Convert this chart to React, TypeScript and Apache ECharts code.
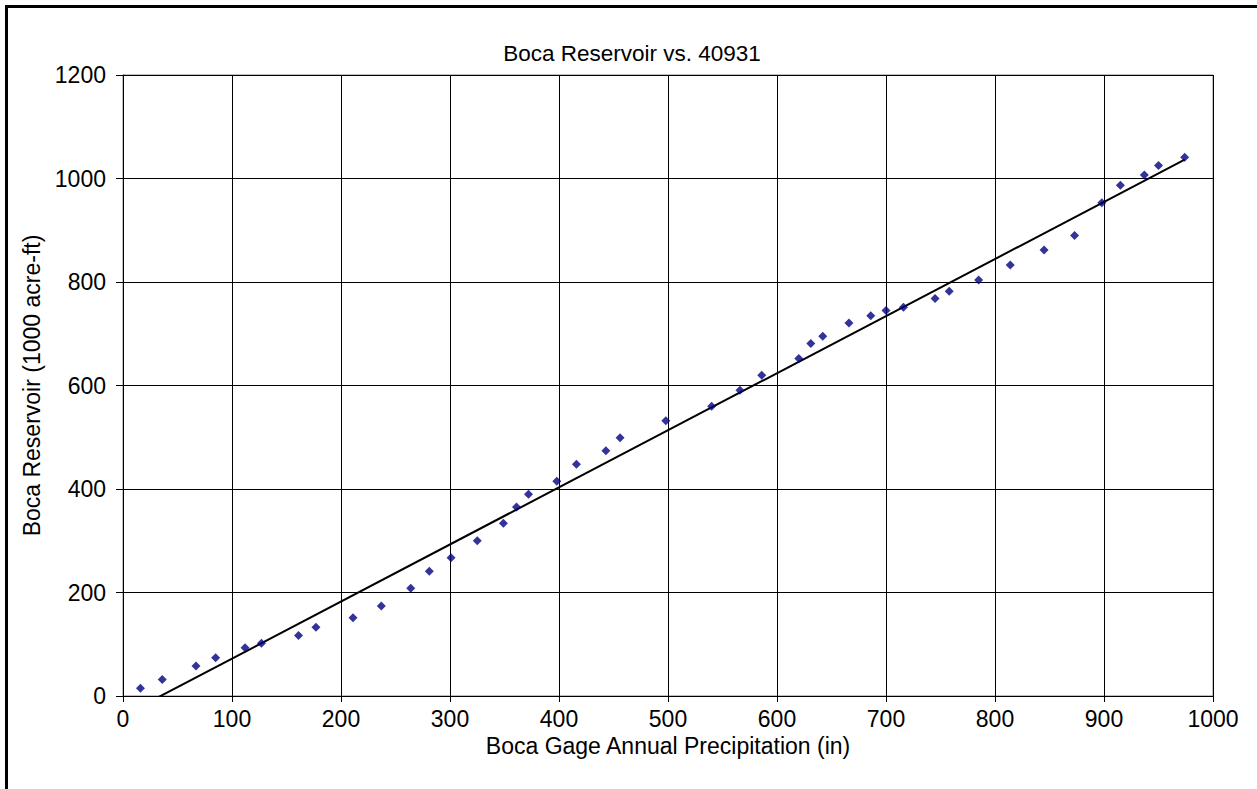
import React, { useEffect, useRef } from "react";
import * as echarts from "echarts";

const precipitation = [16, 36, 67, 85, 112, 127, 161, 177, 211, 237, 264, 281, 301, 325, 349, 361, 372, 398, 416, 443, 456, 498, 540, 566, 586, 620, 631, 642, 666, 686, 700, 716, 745, 758, 785, 814, 845, 873, 898, 915, 937, 950, 974];
const reservoir = [15, 32, 58, 74, 93, 102, 117, 133, 151, 174, 208, 241, 267, 300, 334, 365, 390, 415, 448, 474, 499, 532, 560, 591, 620, 652, 681, 695, 721, 735, 745, 751, 768, 782, 804, 833, 862, 890, 953, 987, 1007, 1025, 1041];

const titleText = "Boca Reservoir vs. 40931";
const xName = "Boca Gage Annual Precipitation (in)";
const yName = "Boca Reservoir (1000 acre-ft)";

function regression(xs: number[], ys: number[]) {
  const n = xs.length;
  const mx = xs.reduce((a, b) => a + b, 0) / n;
  const my = ys.reduce((a, b) => a + b, 0) / n;
  let sxy = 0, sxx = 0;
  for (let i = 0; i < n; i++) {
    sxy += (xs[i] - mx) * (ys[i] - my);
    sxx += (xs[i] - mx) * (xs[i] - mx);
  }
  const slope = sxy / sxx;
  return { slope, intercept: my - slope * mx };
}

const FONT = "'Liberation Sans', Arial, sans-serif";
const FS = 23;

export default function App() {
  const ref = useRef<HTMLDivElement>(null);
  useEffect(() => {
    if (!ref.current) return;
    const chart = echarts.init(ref.current, null, { renderer: "svg" });
    const { slope, intercept } = regression(precipitation, reservoir);
    const xmin = Math.min(...precipitation);
    const xmax = Math.max(...precipitation);
    const trend = [
      [xmin, slope * xmin + intercept],
      [xmax, slope * xmax + intercept],
    ];
    const points = precipitation.map((x, i) => [x, reservoir[i]]);
    chart.setOption({
      animation: false,
      backgroundColor: "#fff",
      textStyle: { fontFamily: FONT, color: "#000" },
      title: {
        text: titleText,
        left: 627,
        textAlign: "center",
        top: 37,
        textStyle: { fontFamily: FONT, fontSize: 22.5, fontWeight: "normal", color: "#000" },
      },
      graphic: [
        {
          type: "rect",
          shape: { x: 6.5, y: 6.5, width: 1400, height: 1000 },
          style: { fill: "none", stroke: "#000", lineWidth: 3 },
          silent: true,
        },
      ],
      grid: { left: 123, right: 44, top: 75, bottom: 93, show: true, borderColor: "#808080", borderWidth: 1 },
      xAxis: {
        type: "value",
        min: 0,
        max: 1000,
        interval: 100,
        name: xName,
        nameLocation: "middle",
        nameGap: 35,
        nameTextStyle: { fontFamily: FONT, fontSize: FS, color: "#000" },
        axisLine: { show: true, onZero: false, lineStyle: { color: "#000", width: 1 } },
        axisTick: { show: true, length: 6, lineStyle: { color: "#000" } },
        axisLabel: { fontFamily: FONT, fontSize: FS, color: "#000", margin: 11, formatter: (v: number) => String(v) },
        splitLine: { show: true, lineStyle: { color: "#000", width: 1 } },
      },
      yAxis: {
        type: "value",
        min: 0,
        max: 1200,
        interval: 200,
        name: yName,
        nameLocation: "middle",
        nameGap: 73,
        nameRotate: 90,
        nameTextStyle: { fontFamily: FONT, fontSize: FS, color: "#000" },
        axisLine: { show: true, lineStyle: { color: "#000", width: 1 } },
        axisTick: { show: true, length: 7, lineStyle: { color: "#000" } },
        axisLabel: { fontFamily: FONT, fontSize: FS, color: "#000", margin: 17, formatter: (v: number) => String(v) },
        splitLine: { show: true, lineStyle: { color: "#000", width: 1 } },
      },
      series: [
        {
          type: "scatter",
          data: points,
          symbol: "diamond",
          symbolSize: 9,
          itemStyle: { color: "#000080" },
          z: 3,
        },
        {
          type: "line",
          data: trend,
          showSymbol: false,
          symbol: "none",
          clip: true,
          lineStyle: { color: "#000", width: 2 },
          z: 2,
        },
      ],
    });
    return () => chart.dispose();
  }, []);
  return (
    <div
      ref={ref}
      style={{ position: "fixed", left: 0, top: 0, width: 1257, height: 789, background: "#fff" }}
    />
  );
}
